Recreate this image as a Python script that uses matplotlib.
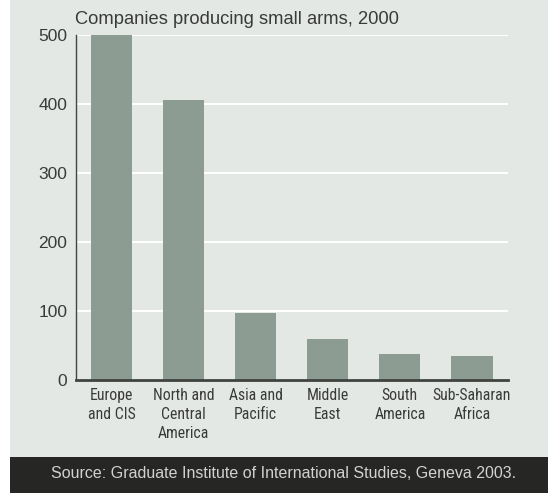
import matplotlib
matplotlib.use('Agg')
import matplotlib.pyplot as plt
from matplotlib.patches import Rectangle

# companies producing small arms by region, 2000
regions = ['Europe\nand CIS', 'North and\nCentral\nAmerica', 'Asia and\nPacific',
           'Middle\nEast', 'South\nAmerica', 'Sub-Saharan\nAfrica']
companies = [500, 406, 97, 59, 37, 34]
y_ticks = [0, 100, 200, 300, 400, 500]

title = 'Companies producing small arms, 2000'
source = 'Source: Graduate Institute of International Studies, Geneva 2003.'

PANEL = '#e3e8e4'
BAR = '#8c9c92'
TEXT = '#3a3a3a'

plt.rcParams['font.family'] = ['Liberation Sans', 'DejaVu Sans']

W, H = 548, 493
fig = plt.figure(figsize=(W / 100, H / 100), dpi=100)
fig.patch.set_facecolor('white')

# grey panel and dark source band, in pixel terms
fig.add_artist(Rectangle((10 / W, 0), 1 - 10 / W, 1, transform=fig.transFigure,
                         facecolor=PANEL, edgecolor='none', zorder=0))
fig.add_artist(Rectangle((10 / W, 0), 1 - 10 / W, (H - 457) / H, transform=fig.transFigure,
                         facecolor='#262724', edgecolor='none', zorder=1))
fig.text(284 / W, 1 - 474 / H, source, ha='center', va='center',
         fontsize=11.5, color='#d2d2d0')

ax = fig.add_axes([75.6 / W, 1 - 379.7 / H, (508 - 75.6) / W, (379.7 - 35) / H])
ax.set_facecolor('none')

x = range(len(regions))
ax.bar(x, companies, width=0.57, color=BAR, zorder=2)

ax.set_xlim(-0.5, 5.5)
ax.set_ylim(0, 500)
ax.set_yticks(y_ticks)
ax.yaxis.grid(True, color='white', linewidth=1.5, zorder=1)
ax.set_axisbelow(True)

ax.set_xticks(list(x))
ax.set_xticklabels(regions, family=['Roboto Condensed', 'DejaVu Sans'], fontsize=11.3,
                   color=TEXT, linespacing=1.32)
ax.tick_params(axis='x', length=0, pad=6)
ax.tick_params(axis='y', length=0, pad=6, labelsize=12.5, labelcolor=TEXT)

for side in ['top', 'right']:
    ax.spines[side].set_visible(False)
ax.spines['left'].set_color('#444444')
ax.spines['left'].set_linewidth(1.0)
ax.spines['bottom'].set_color('#3f433f')
ax.spines['bottom'].set_linewidth(2.0)
ax.spines['bottom'].set_zorder(3)

fig.text(75 / W, 1 - 19 / H, title, ha='left', va='center', fontsize=13.2, color=TEXT)

fig.savefig('out.png', dpi=100)
